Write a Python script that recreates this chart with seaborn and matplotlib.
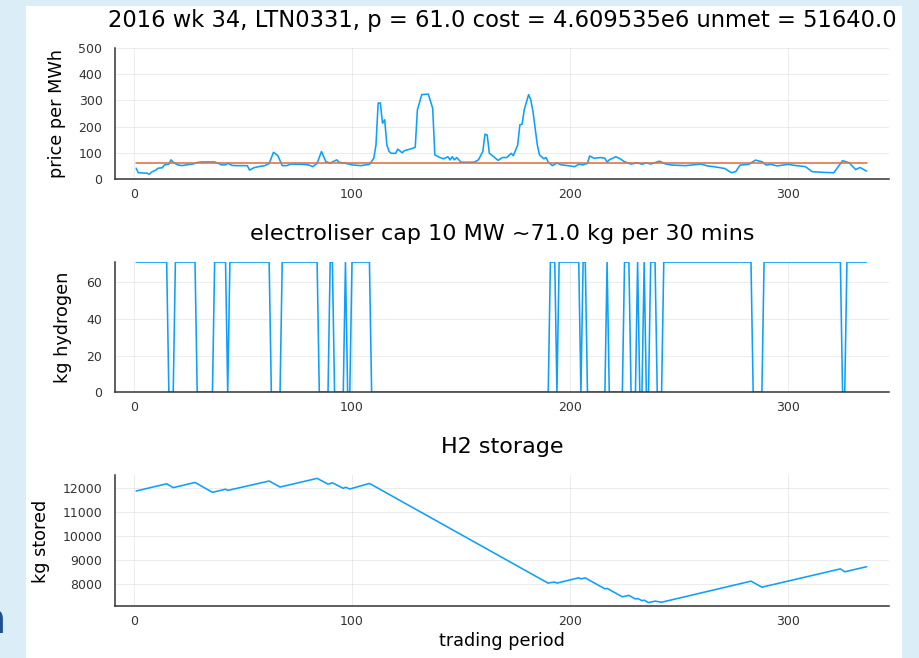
import numpy as np
import pandas as pd
import matplotlib
matplotlib.use("Agg")
import matplotlib.pyplot as plt
import seaborn as sns
from matplotlib.patches import Rectangle

# ---------------- data ----------------
period_ticks = [0, 100, 200, 300]

price_t = [1, 2, 4, 6, 7, 8, 10, 11, 13, 14, 15, 16, 17, 18, 20, 22, 24, 27, 29, 31,
           37, 39, 40, 42, 43, 45, 47, 52, 53, 55, 57, 60, 62, 64, 66, 68, 70, 72, 77, 80,
           82, 84, 86, 88, 90, 93, 94, 97, 100, 104, 108, 110, 111, 112, 113, 114, 115, 116, 117, 118,
           120, 121, 123, 124, 127, 129, 130, 132, 135, 137, 138, 140, 142, 144, 145, 146, 147, 148, 150, 156,
           158, 160, 161, 162, 163, 165, 167, 169, 171, 173, 174, 176, 177, 178, 179, 181, 182, 183, 185, 186,
           188, 189, 190, 192, 194, 196, 200, 202, 204, 206, 208, 209, 211, 214, 216, 217, 218, 221, 223, 225,
           228, 231, 233, 235, 237, 241, 244, 247, 253, 260, 263, 266, 271, 274, 276, 278, 282, 285, 288, 290,
           292, 295, 300, 303, 308, 311, 317, 321, 325, 328, 331, 333, 336]
price_v = [41, 24, 23, 22, 18, 26, 34, 41, 43, 54, 55, 57, 73, 64, 54, 51, 54, 57, 63, 65,
           65, 59, 54, 54, 60, 52, 51, 51, 34, 43, 47, 51, 59, 102, 89, 51, 51, 57, 56, 54,
           47, 60, 105, 66, 61, 73, 64, 60, 54, 51, 56, 79, 130, 290, 290, 213, 226, 130, 105, 98,
           98, 114, 100, 108, 115, 121, 264, 322, 324, 270, 92, 83, 77, 85, 73, 85, 73, 82, 64, 64,
           73, 105, 171, 168, 98, 85, 71, 82, 82, 98, 89, 130, 207, 209, 264, 322, 302, 258, 130, 92,
           77, 82, 64, 51, 61, 54, 50, 47, 56, 54, 60, 88, 79, 82, 79, 64, 73, 85, 77, 66,
           57, 62, 56, 62, 57, 68, 57, 53, 51, 57, 50, 47, 40, 24, 28, 53, 56, 72, 66, 53,
           56, 50, 56, 52, 47, 28, 25, 24, 70, 62, 36, 44, 30]
price_p = 61.0

# electrolyser output: runs (first period, last period, kg per 30 mins)
elec_runs = [(1, 15, 71), (16, 18, 0), (19, 28, 71), (29, 36, 0), (37, 42, 71), (43, 43, 0),
             (44, 62, 71), (63, 67, 0), (68, 84, 71), (85, 89, 0), (90, 91, 71), (92, 96, 0),
             (97, 97, 71), (98, 99, 0), (100, 108, 71), (109, 190, 0), (191, 193, 71), (194, 194, 0),
             (195, 204, 71), (205, 205, 0), (206, 207, 71), (208, 216, 0), (217, 217, 71),
             (218, 224, 0), (225, 227, 71), (228, 230, 0), (231, 231, 71), (232, 233, 0),
             (234, 234, 71), (235, 236, 0), (237, 239, 71), (240, 242, 0), (243, 283, 71),
             (284, 288, 0), (289, 324, 71), (325, 326, 0), (327, 336, 71)]

store_t = [1, 15, 18, 28, 36, 42, 43, 44, 62, 67, 84, 89, 91, 96, 97, 99, 100, 108,
           190, 191, 193, 194, 204, 205, 207, 216, 217, 224, 227, 230, 231, 233, 234,
           236, 239, 242, 283, 288, 324, 326, 336]
store_v = [11875, 12175, 12015, 12230, 11820, 11950, 11900, 11920, 12290, 12040, 12400,
           12160, 12215, 11985, 12030, 11960, 11985, 12190,
           8045, 8070, 8090, 8050, 8270, 8225, 8265, 7810, 7830, 7480, 7540, 7390, 7410,
           7320, 7340, 7240, 7300, 7255, 8130, 7880, 8640, 8520, 8730]

title_main = "2016 wk 34, LTN0331, p = 61.0 cost = 4.609535e6 unmet = 51640.0"
title_elec = "electroliser cap 10 MW ~71.0 kg per 30 mins"
title_store = "H2 storage"

# ---------------- tables ----------------
df_price = pd.DataFrame({"period": price_t, "price": price_v})
df_p = pd.DataFrame({"period": [price_t[0], price_t[-1]], "price": [price_p, price_p]})
ex, ey = [], []
for a, b, lvl in elec_runs:
    ex += [a, b]
    ey += [lvl, lvl]
df_elec = pd.DataFrame({"period": ex, "kg": ey})
df_store = pd.DataFrame({"period": store_t, "kg": store_v})

# ---------------- figure ----------------
sns.set_theme(style="white")
plt.rcParams['font.family'] = ['DejaVu Sans']

W, H = 920, 658
fig = plt.figure(figsize=(W / 100, H / 100), dpi=100)
fig.patch.set_facecolor('#dbedf7')
fig.patches.append(Rectangle((26 / W, 0), (902 - 26) / W, (H - 6) / H,
                             transform=fig.transFigure, facecolor='white',
                             edgecolor='none', zorder=-10))

BLUE = '#0d9ffa'
RED = '#E26F46'
AX = '#333333'


def add_ax(top, bottom):
    ax = fig.add_axes([115 / W, 1 - bottom / H, 774 / W, (bottom - top) / H])
    ax.set_zorder(1)
    return ax


def style(ax, yticks, ylim):
    ax.set_facecolor('none')
    ax.set_xlim(-8.7, 346.3)
    ax.set_ylim(*ylim)
    ax.set_xticks(period_ticks)
    ax.set_yticks(yticks)
    for s in ['top', 'right']:
        ax.spines[s].set_visible(False)
    for s in ['left', 'bottom']:
        ax.spines[s].set_color(AX)
        ax.spines[s].set_linewidth(1.1)
    ax.grid(True, color='black', alpha=0.08, linewidth=0.7)
    ax.tick_params(axis='both', direction='in', length=4, width=1, colors=AX, labelsize=9)
    ax.tick_params(axis='x', pad=6.5)
    ax.tick_params(axis='y', pad=9)
    ax.set_xlabel('')
    ax.set_ylabel('')
    if ax.get_legend() is not None:
        ax.get_legend().remove()


ax1 = add_ax(48, 179)
sns.lineplot(data=df_price, x="period", y="price", ax=ax1, color=BLUE, linewidth=1.15,
             estimator=None, sort=False)
sns.lineplot(data=df_p, x="period", y="price", ax=ax1, color=RED, linewidth=1.15,
             estimator=None, sort=False)
style(ax1, [0, 100, 200, 300, 400, 500], (0, 500))

ax2 = add_ax(261.7, 392.3)
sns.lineplot(data=df_elec, x="period", y="kg", ax=ax2, color=BLUE, linewidth=1.15,
             estimator=None, sort=False)
style(ax2, [0, 20, 40, 60], (0, 71.2))

ax3 = add_ax(475, 605.7)
sns.lineplot(data=df_store, x="period", y="kg", ax=ax3, color=BLUE, linewidth=1.15,
             estimator=None, sort=False)
style(ax3, [8000, 9000, 10000, 11000, 12000], (7111, 12540))

# titles and labels
TXT = dict(color='black')
fig.text(502 / W, 1 - 26.5 / H, title_main, fontsize=16.3, ha='center', va='baseline', **TXT)
fig.text(502 / W, 1 - 240 / H, title_elec, fontsize=16, ha='center', va='baseline', **TXT)
fig.text(502 / W, 1 - 453 / H, title_store, fontsize=16, ha='center', va='baseline', **TXT)
fig.text(502 / W, 1 - 646 / H, "trading period", fontsize=12.7, ha='center', va='baseline', **TXT)
fig.text(57.5 / W, 1 - 113.5 / H, "price per MWh", fontsize=12.7, rotation=90,
         ha='center', va='center', **TXT)
fig.text(63.5 / W, 1 - 327 / H, "kg hydrogen", fontsize=12.7, rotation=90,
         ha='center', va='center', **TXT)
fig.text(40.5 / W, 1 - 541 / H, "kg stored", fontsize=12.7, rotation=90,
         ha='center', va='center', **TXT)

# cut-off glyph of the surrounding page at the left edge
fig.text(6 / W, 1 - 633 / H, "n", fontsize=30, color='#1d4f91', ha='right', va='baseline')

fig.savefig("out.png", dpi=100, facecolor=fig.get_facecolor())
